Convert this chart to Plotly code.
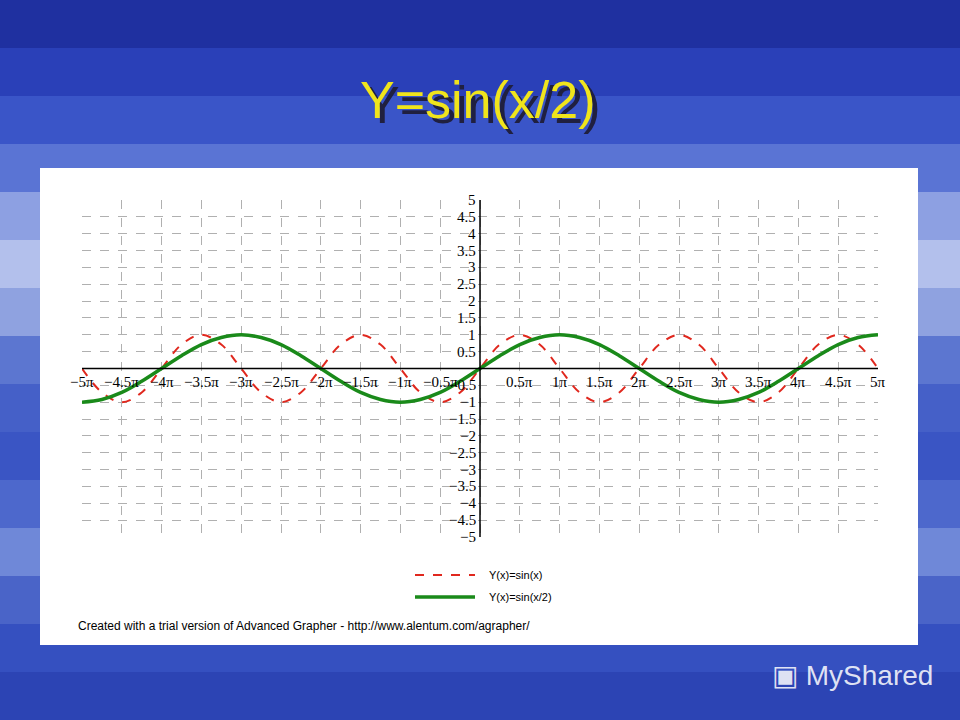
import plotly.graph_objects as go

# x in units of pi
x_pts = [-5, -4.75, -4.5, -4.25, -4, -3.75, -3.5, -3.25, -3, -2.75, -2.5, -2.25, -2, -1.75, -1.5, -1.25, -1,
         -0.75, -0.5, -0.25, 0, 0.25, 0.5, 0.75, 1, 1.25, 1.5, 1.75, 2, 2.25, 2.5, 2.75, 3, 3.25, 3.5, 3.75,
         4, 4.25, 4.5, 4.75, 5]
sin_x = [0, -0.71, -1, -0.71, 0, 0.71, 1, 0.71, 0, -0.71, -1, -0.71, 0, 0.71, 1, 0.71, 0,
         -0.71, -1, -0.71, 0, 0.71, 1, 0.71, 0, -0.71, -1, -0.71, 0, 0.71, 1, 0.71, 0, -0.71, -1, -0.71,
         0, 0.71, 1, 0.71, 0]
sin_half = [-1, -0.92, -0.71, -0.38, 0, 0.38, 0.71, 0.92, 1, 0.92, 0.71, 0.38, 0, -0.38, -0.71, -0.92, -1,
            -0.92, -0.71, -0.38, 0, 0.38, 0.71, 0.92, 1, 0.92, 0.71, 0.38, 0, -0.38, -0.71, -0.92, -1,
            -0.92, -0.71, -0.38, 0, 0.38, 0.71, 0.92, 1]
x_ticks = [-5, -4.5, -4, -3.5, -3, -2.5, -2, -1.5, -1, -0.5, 0.5, 1, 1.5, 2, 2.5, 3, 3.5, 4, 4.5, 5]
y_ticks = [5, 4.5, 4, 3.5, 3, 2.5, 2, 1.5, 1, 0.5, -0.5, -1, -1.5, -2, -2.5, -3, -3.5, -4, -4.5, -5]

def fmt(v):
    s = ('%g' % abs(v))
    return ('\u2212' if v < 0 else '') + s

fig = go.Figure()
fig.add_trace(go.Scatter(x=x_pts, y=sin_x, mode='lines', line=dict(color='#e0281e', width=2, dash='dash', shape='spline')))
fig.add_trace(go.Scatter(x=x_pts, y=sin_half, mode='lines', line=dict(color='#1a8a1a', width=3.5, shape='spline')))

shapes = []
# background bands
bands = ['#1f30a0', '#2a40b8', '#3a55c8', '#5a74d4', '#8da0e2', '#b3c0ec', '#8fa2e0', '#5c76d0',
         '#4560c8', '#3a55c4', '#4d68cc', '#6f88d8', '#4a64c8', '#3550c0', '#2c44b4']
n = len(bands)
for i, c in enumerate(bands):
    shapes.append(dict(type='rect', xref='paper', yref='paper', x0=0, x1=1,
                       y0=1 - (i + 1) / n, y1=1 - i / n, fillcolor=c, line_width=0, layer='below'))
shapes.append(dict(type='rect', xref='paper', yref='paper', x0=40/960, x1=918/960,
                   y0=1-645/720, y1=1-168/720, fillcolor='white', line_width=0, layer='below'))
# axes
shapes.append(dict(type='line', x0=-5, x1=5.35, y0=0, y1=0, line=dict(color='black', width=1.5)))
shapes.append(dict(type='line', x0=0, x1=0, y0=-5.6, y1=5.5, line=dict(color='black', width=1.5)))
# legend lines
shapes.append(dict(type='line', xref='paper', yref='paper', x0=415/960, x1=475/960, y0=1-575/720, y1=1-575/720,
                   line=dict(color='#e0281e', width=2, dash='dash')))
shapes.append(dict(type='line', xref='paper', yref='paper', x0=415/960, x1=475/960, y0=1-597/720, y1=1-597/720,
                   line=dict(color='#1a8a1a', width=3.5)))

ann = []
tf = dict(family='Times New Roman, Liberation Serif', size=15, color='black')
for v in x_ticks:
    ann.append(dict(x=v, y=0, text=fmt(v) + '\u03c0', showarrow=False, yanchor='top', yshift=-3, font=tf))
for v in y_ticks:
    ann.append(dict(x=0, y=v, text=fmt(v), showarrow=False, xanchor='right', xshift=-2, font=tf))
mid = dict(xanchor='center', yanchor='middle', showarrow=False, xref='paper', yref='paper')
ann += [
    dict(x=5.3, y=0, text='X', showarrow=False, yanchor='bottom', font=dict(size=11, color='black')),
    dict(x=0, y=5.3, text='Y', showarrow=False, xanchor='left', xshift=4, font=dict(size=11, color='black')),
    dict(xref='paper', yref='paper', x=487/960, y=1-575/720, text='Y(x)=sin(x)', showarrow=False, xanchor='left',
         yanchor='middle', font=dict(family='Arial', size=11, color='black')),
    dict(xref='paper', yref='paper', x=487/960, y=1-597/720, text='Y(x)=sin(x/2)', showarrow=False, xanchor='left',
         yanchor='middle', font=dict(family='Arial', size=11, color='black')),
    dict(xref='paper', yref='paper', x=76/960, y=1-626/720,
         text='Created with a trial version of Advanced Grapher - http://www.alentum.com/agrapher/',
         showarrow=False, xanchor='left', yanchor='middle', font=dict(family='Arial', size=12, color='black')),
    dict(x=483/960, y=1-105/720, text='Y=sin(x/2)', font=dict(family='Arial', size=52, color='#202040'), **mid),
    dict(x=478/960, y=1-100/720, text='Y=sin(x/2)', font=dict(family='Arial', size=52, color='#f0e41c'), **mid),
    dict(x=852/960, y=1-675/720, text='\u25a3 MyShared', font=dict(family='Arial', size=28, color='rgba(255,255,255,0.85)'), **mid),
]

fig.update_layout(
    width=960, height=720, margin=dict(l=0, r=0, t=0, b=0), showlegend=False,
    paper_bgcolor='#3a55c8', plot_bgcolor='rgba(0,0,0,0)',
    shapes=shapes, annotations=ann,
    xaxis=dict(domain=[82/960, 878/960], range=[-5, 5], dtick=0.5, showticklabels=False, zeroline=False,
               showgrid=True, gridcolor='#b0b0b0', griddash='dash', gridwidth=1),
    yaxis=dict(domain=[1-537/720, 1-200/720], range=[-5, 5], dtick=0.5, showticklabels=False, zeroline=False,
               showgrid=True, gridcolor='#b0b0b0', griddash='dash', gridwidth=1),
)
fig.write_html("out.html", config={'displayModeBar': False},
               post_script="document.body.style.margin='0';")
